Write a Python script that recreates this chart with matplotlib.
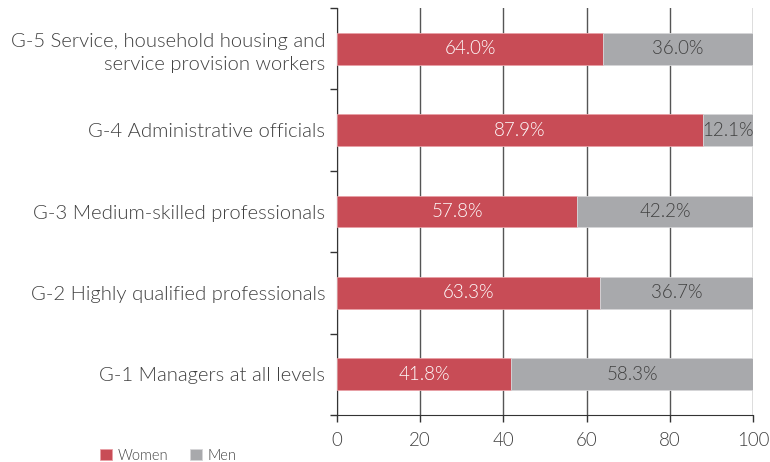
import matplotlib.pyplot as plt
import numpy as np

plt.rcParams['font.family'] = ['Lato', 'DejaVu Sans']
plt.rcParams['font.weight'] = 300

categories = [
    "G-1 Managers at all levels",
    "G-2 Highly qualified professionals",
    "G-3 Medium-skilled professionals",
    "G-4 Administrative officials",
    "G-5 Service, household housing and\nservice provision workers",
]
women = [41.8, 63.3, 57.8, 87.9, 64.0]
men = [58.3, 36.7, 42.2, 12.1, 36.0]

red = '#C84C56'
grey = '#A8A9AC'
text_col = '#404040'

fig = plt.figure(figsize=(7.7, 4.62), dpi=100)
ax = fig.add_axes([0.4377, 0.1017, 0.5403, 0.881])

y = np.arange(len(categories))
ax.barh(y, women, height=0.39, color=red, edgecolor='#E8A0A6', linewidth=0.6, label='Women', zorder=3)
ax.barh(y, men, left=women, height=0.39, color=grey, edgecolor='#D6D6D8', linewidth=0.6, label='Men', zorder=3)

for i in range(len(categories)):
    ax.text(women[i] / 2, y[i], f"{women[i]:.1f}%", ha='center', va='center',
            color='white', fontsize=13.5, fontweight=300, zorder=4)
    ax.text(women[i] + men[i] / 2, y[i], f"{men[i]:.1f}%", ha='center', va='center',
            color='#404040', fontsize=13.5, fontweight=300, zorder=4)

ax.set_xlim(0, 100)
ax.set_ylim(-0.5, 4.5)
ax.set_xticks([0, 20, 40, 60, 80, 100])
ax.set_yticks(y)
ax.set_yticklabels(categories, fontsize=14.6, fontweight=300, color=text_col, linespacing=1.4)
ax.set_yticks(np.arange(-0.5, 5.0, 1.0), minor=True)
ax.tick_params(axis='y', which='major', length=0, pad=8.5)
ax.tick_params(axis='y', which='minor', length=5, width=1, color='#333333')
ax.tick_params(axis='x', length=5, width=1, color='#333333', labelsize=13.5, labelcolor=text_col, pad=7)
for lab in ax.get_xticklabels():
    lab.set_fontweight(300)

ax.grid(axis='x', color='#555555', linewidth=1, zorder=0)
ax.spines['top'].set_visible(False)
ax.spines['right'].set_visible(False)
ax.spines['left'].set_color('#333333')
ax.spines['bottom'].set_color('#333333')

fig.legend(loc='lower left', bbox_to_anchor=(0.113, -0.03), ncol=2, frameon=False,
           prop={'size': 10.5, 'weight': 300}, handlelength=0.8, handleheight=0.8,
           columnspacing=1.5, handletextpad=0.4, labelcolor=text_col)

fig.savefig('out.png', dpi=100)
